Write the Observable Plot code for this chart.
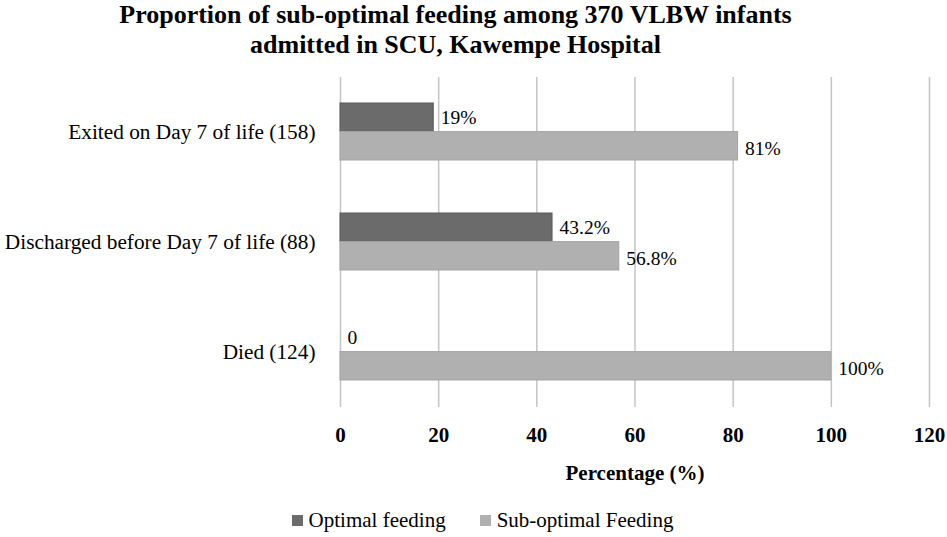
<!DOCTYPE html>
<html><head><meta charset="utf-8">
<script src="https://cdn.jsdelivr.net/npm/d3@7"></script>
<script src="https://cdn.jsdelivr.net/npm/@observablehq/plot@0.6"></script>
<style>
body{margin:0;background:#fff;font-family:"Liberation Serif","Times New Roman",serif;color:#000;}
#title{width:947px;text-align:center;font-weight:bold;font-size:26px;line-height:30px;height:62px;padding-right:36px;box-sizing:border-box;}
#legend{width:947px;display:flex;justify-content:center;align-items:center;margin-top:16px;height:24px;font-size:21px;padding-left:18px;box-sizing:border-box;}
.item{display:flex;align-items:center;margin:0 17px;}
.sw{width:11px;height:11px;margin-right:6px;}
</style></head><body>
<div id="title">Proportion of sub-optimal feeding among 370 VLBW infants<br>admitted in SCU, Kawempe Hospital</div>
<div id="chart"></div>
<div id="legend"></div>
<script>
const categories = ["Exited on Day 7 of life (158)", "Discharged before Day 7 of life (88)", "Died (124)"];
const optimal = [19, 43.2, 0];
const subOptimal = [81, 56.8, 100];
const optimalLabels = ["19%", "43.2%", "0"];
const subOptimalLabels = ["81%", "56.8%", "100%"];
const seriesNames = ["Optimal feeding", "Sub-optimal Feeding"];
const seriesColors = ["#6b6b6b", "#b0b0b0"];
const seriesStrokes = ["#5a5a5a", "#a4a4a4"];
const xTicks = [0, 20, 40, 60, 80, 100, 120];
const xLabel = "Percentage (%)";

const optRows = categories.map((c, i) => ({category: c, value: optimal[i], label: optimalLabels[i]}));
const subRows = categories.map((c, i) => ({category: c, value: subOptimal[i], label: subOptimalLabels[i]}));

const half = 28.6;
const chart = Plot.plot({
  width: 947,
  height: 430,
  marginLeft: 340,
  marginRight: 18,
  marginTop: 15,
  marginBottom: 85,
  style: {fontFamily: '"Liberation Serif","Times New Roman",serif', fontSize: "21px", color: "#000", background: "#fff"},
  x: {domain: [0, 120], ticks: xTicks, label: null},
  y: {type: "band", domain: categories, paddingInner: 0.48, paddingOuter: 0.24, label: null},
  marks: [
    Plot.gridX(xTicks, {stroke: "#c4c4c4", strokeOpacity: 1, strokeWidth: 1.5}),
    Plot.barX(optRows, {x: "value", y: "category", fill: seriesColors[0], stroke: seriesStrokes[0], strokeWidth: 1, insetBottom: half}),
    Plot.barX(subRows, {x: "value", y: "category", fill: seriesColors[1], stroke: seriesStrokes[1], strokeWidth: 1, insetTop: half}),
    Plot.text(optRows, {x: "value", y: "category", text: "label", dx: 7, dy: -half / 2, textAnchor: "start", fontSize: 19.5, fill: "#000"}),
    Plot.text(subRows, {x: "value", y: "category", text: "label", dx: 7, dy: half / 2 + 2, textAnchor: "start", fontSize: 19.5, fill: "#000"}),
    Plot.axisX(xTicks, {tickSize: 0, tickPadding: 20, fontWeight: "bold", fontSize: 21, label: null}),
    Plot.axisY({tickSize: 0, tickPadding: 25, fontSize: 21.3, label: null}),
    Plot.text([xLabel], {frameAnchor: "bottom", dy: 72, fontWeight: "bold", fontSize: 21, fill: "#000"})
  ]
});
document.getElementById("chart").appendChild(chart);

const legend = document.getElementById("legend");
seriesNames.forEach((name, i) => {
  const item = document.createElement("div");
  item.className = "item";
  const sw = document.createElement("div");
  sw.className = "sw";
  sw.style.background = seriesColors[i];
  const t = document.createElement("span");
  t.textContent = name;
  item.appendChild(sw);
  item.appendChild(t);
  legend.appendChild(item);
});
</script>
</body></html>
